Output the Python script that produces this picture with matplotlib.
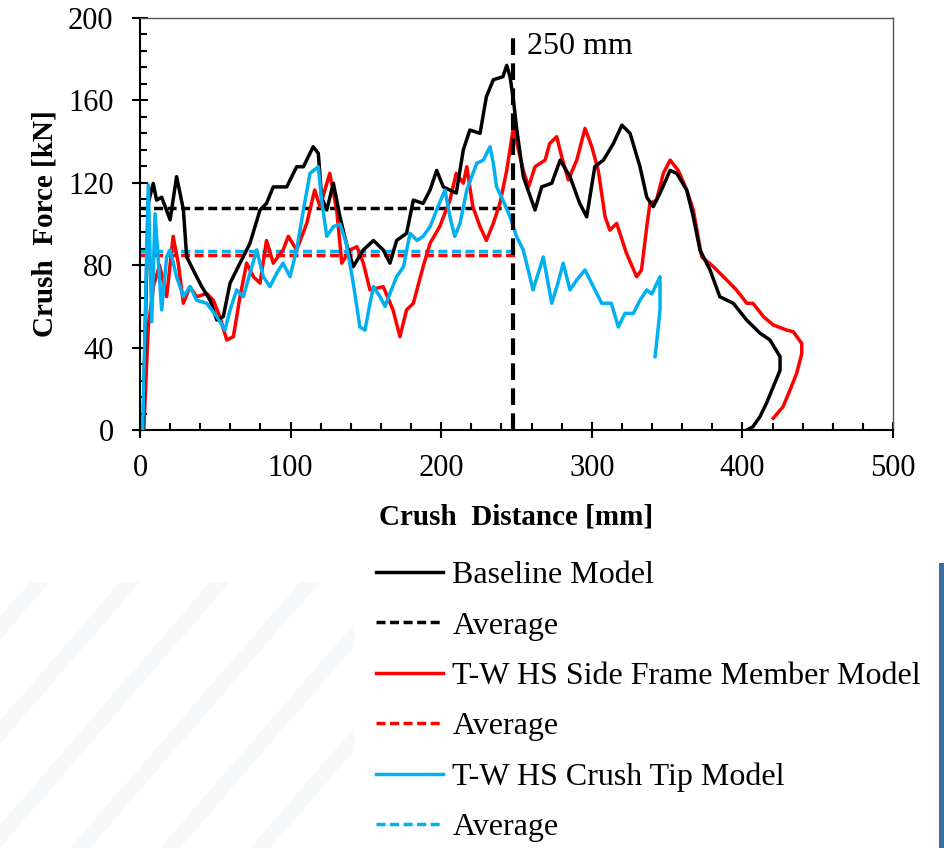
import matplotlib
matplotlib.use("Agg")
import matplotlib.pyplot as plt
from matplotlib.patches import Polygon, Rectangle
from matplotlib.ticker import MultipleLocator

plt.rcParams['font.family'] = ['Liberation Serif', 'DejaVu Serif']

# Baseline model
base_x = [2, 5.4, 8.8, 11, 14.4, 20, 24.3, 28.8, 31, 37.6, 41, 46.5, 51, 55.3, 59.8, 66.4, 73, 79.7,
          84, 88.5, 97.4, 104, 108.5, 115, 118.4, 120.6, 124, 128.4, 132.8, 137, 141.6, 148.3, 155,
          161.5, 166, 170.4, 177, 181.5, 188, 192.6, 197, 201.4, 210, 214.7, 219, 225.8, 230, 234.6,
          241, 243.5, 245.7, 248, 250, 254.5, 262.3, 266.7, 273.4, 279, 285.5, 292, 296.6, 302, 307.7,
          314.3, 320, 325.4, 332, 336.5, 340.8, 345.3, 352, 356.4, 363, 367.4, 371.8, 378.5, 385, 394,
          402.8, 411.7, 418.3, 425, 425, 420.5, 416, 411.7, 407, 403]
base_y = [0, 110, 119.7, 111.6, 113, 102, 123, 107, 84, 74.4, 69.6, 63, 53.4, 55, 71.3, 81, 90.6, 106.8,
          110, 118, 118, 127.8, 127.8, 137.5, 134.3, 113, 106.8, 119.8, 103.5, 90.6, 79.3, 87.4, 92,
          87.4, 81, 92, 95.5, 111.6, 110, 116.5, 126, 118, 115, 136, 145.6, 144, 161.8, 170,
          171.5, 177, 171.5, 160, 147, 123, 106.8, 118, 119.8, 131, 123, 110, 103.5, 127.8, 131,
          139, 148, 144, 127.8, 113, 108.4, 115, 126, 124.6, 116.5, 103.5, 87.4, 77.7, 64.7, 61.5,
          53.4, 47, 43.7, 35.6, 29, 21, 13, 6.5, 1.6, 0]

# T-W HS side frame member model
side_x = [2.5, 5.5, 9, 13, 17.7, 22, 25.4, 28.8, 33.2, 37.6, 44.3, 48.7, 53, 57.6, 62, 66.4, 70.8, 75.3,
          79.7, 84, 88.5, 95, 98.5, 104, 110.7, 116, 119.5, 126, 130.6, 134, 139.4, 144, 148.3, 152.7,
          161.5, 168, 172.6, 177, 181.5, 188, 192.6, 199, 205.8, 210, 214.7, 217, 221, 225.8, 230,
          234.6, 239, 243.5, 248, 250, 254.5, 258, 262.3, 269, 272, 276.7, 280, 284.4, 290, 295.5,
          300, 304.3, 308.8, 312, 316.5, 323, 329.8, 333, 336.5, 338.6, 343, 347.5, 352, 357.4, 363,
          367.4, 373, 380.7, 389.6, 396, 403, 407, 414, 420.5, 429.4, 433.8, 439.4, 439.4, 436,
          431.6, 427, 420.5]
side_y = [0, 50, 70, 80, 64.7, 94, 81, 61.5, 69.6, 64.7, 66.3, 63, 55, 43.7, 45.3, 64.7, 81, 74.4,
          71.3, 92, 81, 87.4, 94, 87.4, 100.3, 116.5, 108.4, 124.6, 106.8, 81, 87.4, 89, 81, 68,
          69.6, 58.3, 45.3, 58.3, 61.5, 79.3, 90.6, 98.7, 111.6, 124.6, 119.8, 127.8, 108.4, 98.7, 92,
          100.3, 110, 126, 147, 140, 126, 118, 127.8, 131, 139, 142.4, 132.7, 121.4, 131, 146.4,
          137.5, 126, 103.5, 97, 100.3, 85.8, 74.4, 77.7, 98.7, 110, 111.6, 124.6, 131, 126, 116.5,
          106.8, 84, 79.3, 72.8, 68, 61.5, 61.5, 55, 51, 48.5, 47.7, 42, 37, 27.5,
          19.4, 11.3, 5.7]

# T-W HS crush tip model
tip_x = [1.8, 5.5, 7.8, 10, 14.4, 17.7, 20, 24.3, 28.8, 33.2, 37.6, 44.3, 51, 56.4, 59.8, 64.2, 68.6,
         73, 77.5, 81.9, 86.3, 90.7, 95, 99.6, 104, 108.5, 112.9, 118.4, 120.6, 124, 128.4, 132.8,
         137, 141.6, 146, 149.4, 152.7, 155, 159.4, 162.7, 166, 170.4, 175, 179.3, 184, 188, 192.6,
         197, 202.5, 205.8, 209, 212.5, 217, 223.6, 228, 232.4, 234.6, 236.8, 241, 245.7, 250,
         254.5, 261, 267.8, 273.4, 277.5, 281, 285.5, 290, 295.5, 301, 306.6, 313, 317.6, 322,
         327.6, 332, 336.5, 339.8, 345.3, 345.3, 343, 342]
tip_y = [0, 119, 52.6, 105, 58.3, 84, 87.4, 74.4, 64.7, 69.6, 63, 61.5, 55, 48.5, 58.3, 68, 64.7,
         76, 87.4, 74.4, 69.6, 76, 81, 74.4, 87.4, 106.8, 124.6, 127.8, 111.6, 94, 98.7, 100,
         90.6, 71.3, 50, 48.5, 61.5, 69.6, 64.7, 60, 66.3, 74.4, 79.3, 95.5, 92, 94, 98.7,
         106.8, 116.5, 103.5, 94, 100.3, 116.5, 129.5, 131, 137.5, 129.5, 118, 111.6, 103.5, 94,
         87.4, 68, 84, 61.5, 71.3, 81, 68, 72.8, 77.7, 69.6, 61.5, 61.5, 50, 56.6,
         56.6, 63, 68, 66, 74.4, 58.3, 42, 35.6]

avg_end = 251
base_avg = 108
side_avg = 85
tip_avg = 87
mark_x = 248
mark_label = "250 mm"

fig = plt.figure(figsize=(9.45, 8.48), dpi=100)

# faint slide background: diagonal stripes bottom-left, blue bar on the right
W, H = 945, 848
for x0 in [-200, -110, -20, 70, 160, 250]:
    pts = [(x0 / W, 0), ((x0 + 20) / W, 0), ((x0 + 20 + 230) / W, 266 / H), ((x0 + 230) / W, 266 / H)]
    fig.patches.append(Polygon(pts, closed=True, transform=fig.transFigure,
                               facecolor='#f7f8f9', edgecolor='none', zorder=0))
fig.patches.append(Rectangle((355 / W, 0), 584 / W, 280 / H, transform=fig.transFigure,
                             facecolor='white', edgecolor='none', zorder=0))
fig.patches.append(Rectangle((939 / W, 0), 6 / W, 285 / H, transform=fig.transFigure,
                             facecolor='#3f6ea1', edgecolor='none', zorder=1))

ax = fig.add_axes([140 / W, 1 - 430 / H, 753 / W, 412 / H])

lw = 2.5
dash = (0, (2.6, 1.3))
ax.plot(base_x, base_y, color='black', lw=lw, label='Baseline Model', zorder=4)
ax.plot([0, avg_end], [base_avg, base_avg], color='black', lw=lw, ls=dash, label='Average')
ax.plot(side_x, side_y, color='#ff0000', lw=lw, label='T-W HS Side Frame Member Model', zorder=3)
ax.plot([0, avg_end], [side_avg, side_avg], color='#ff0000', lw=lw, ls=dash, label='Average')
ax.plot(tip_x, tip_y, color='#00b0f0', lw=lw, label='T-W HS Crush Tip Model', zorder=5)
ax.plot([0, avg_end], [tip_avg, tip_avg], color='#00b0f0', lw=lw, ls=dash, label='Average')

ax.plot([mark_x, mark_x], [0, 193], color='black', lw=3, ls=(0, (4, 2)), zorder=6)
ax.text(mark_x + 9, 186, mark_label, fontsize=23, va='center', ha='left')

ax.set_xlim(0, 500)
ax.set_ylim(0, 200)
ax.xaxis.set_major_locator(MultipleLocator(100))
ax.xaxis.set_minor_locator(MultipleLocator(20))
ax.yaxis.set_major_locator(MultipleLocator(40))
ax.yaxis.set_minor_locator(MultipleLocator(8))
ax.tick_params(which='major', direction='inout', length=12, width=1.5, labelsize=22,
               top=False, right=False)
ax.tick_params(axis='x', which='major', pad=11)
ax.tick_params(axis='y', which='major', pad=13)
ax.tick_params(which='minor', direction='in', length=5, width=1.5, top=False, right=False)
for s in ax.spines.values():
    s.set_linewidth(1.5)
ax.spines['top'].set_color('#555555')
ax.spines['right'].set_color('#555555')
ax.spines['top'].set_linewidth(1)
ax.spines['right'].set_linewidth(1)

ax.set_xlabel('Crush  Distance [mm]', fontsize=21, fontweight='bold', labelpad=15)
ax.set_ylabel('Crush  Force [kN]', fontsize=21, fontweight='bold', labelpad=7)

fig.legend(loc='upper left', bbox_to_anchor=(347 / W, 1 - 532 / H), frameon=False,
           fontsize=23, handlelength=2.1, handletextpad=0.3, labelspacing=0.66)

fig.savefig('out.png', dpi=100, facecolor='white')
